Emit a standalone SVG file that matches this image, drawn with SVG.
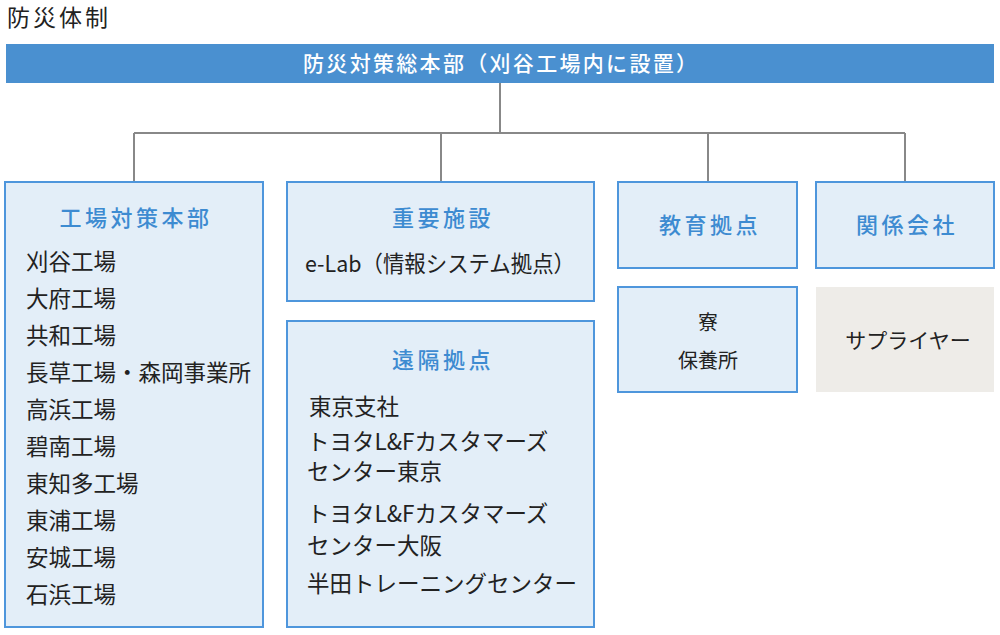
<svg xmlns="http://www.w3.org/2000/svg" width="1000" height="635" viewBox="0 0 1000 635">
<style>
text{font-family:"Noto Sans CJK JP","Noto Sans",sans-serif;}
.box{fill:#e3eef8;stroke:#4e96dc;stroke-width:2;}
.grey{fill:#eeece8;}
.hd{font-size:22px;fill:#3d8bd1;font-weight:500;letter-spacing:3.5px;text-anchor:middle;}
.it{font-size:22.5px;fill:#222;}
.sm{font-size:20px;fill:#222;text-anchor:middle;}
.conn{fill:none;stroke:#888;stroke-width:2;}
</style>
<text x="7" y="26" style="font-size:23px;fill:#222;letter-spacing:3px">防災体制</text>
<g id="hq">
<rect x="6" y="44" width="988" height="39" fill="#4a90d0"/>
<text x="303" y="71" textLength="394" lengthAdjust="spacing" style="font-size:21px;fill:#fff;font-weight:500">防災対策総本部（刈谷工場内に設置）</text>
</g>
<g id="connectors">
<path class="conn" d="M500 83V133M134 133H905M134 133V182M441 133V182M708 133V182M905 133V182"/>
</g>
<g id="factory">
<rect class="box" x="5" y="182" width="258" height="445"/>
<text class="hd" x="136" y="226">工場対策本部</text>
<text class="it" x="26" y="270">刈谷工場</text>
<text class="it" x="26" y="307">大府工場</text>
<text class="it" x="26" y="344">共和工場</text>
<text class="it" x="26" y="381">長草工場・森岡事業所</text>
<text class="it" x="26" y="418">高浜工場</text>
<text class="it" x="26" y="455">碧南工場</text>
<text class="it" x="26" y="492">東知多工場</text>
<text class="it" x="26" y="529">東浦工場</text>
<text class="it" x="26" y="566">安城工場</text>
<text class="it" x="26" y="603">石浜工場</text>
</g>
<g id="important">
<rect class="box" x="287" y="182" width="307" height="119"/>
<text class="hd" x="443" y="226">重要施設</text>
<text class="it" x="305" y="272" textLength="270" lengthAdjust="spacingAndGlyphs">e-Lab（情報システム拠点）</text>
</g>
<g id="remote">
<rect class="box" x="287" y="321" width="307" height="306"/>
<text class="hd" x="443" y="368">遠隔拠点</text>
<text class="it" x="309" y="415">東京支社</text>
<text class="it" x="307" y="450">トヨタL&amp;Fカスタマーズ</text>
<text class="it" x="307" y="480">センター東京</text>
<text class="it" x="307" y="522">トヨタL&amp;Fカスタマーズ</text>
<text class="it" x="307" y="554">センター大阪</text>
<text class="it" x="307" y="592">半田トレーニングセンター</text>
</g>
<g id="education">
<rect class="box" x="618" y="182" width="179" height="86"/>
<text class="hd" x="710" y="233">教育拠点</text>
</g>
<g id="affiliates">
<rect class="box" x="816" y="182" width="178" height="86"/>
<text class="hd" x="907" y="233">関係会社</text>
</g>
<g id="dorm">
<rect class="box" x="618" y="287" width="179" height="105"/>
<text class="sm" x="708" y="330">寮</text>
<text class="sm" x="708" y="368">保養所</text>
</g>
<g id="supplier">
<rect class="grey" x="816" y="287" width="178" height="105"/>
<text class="sm" x="908" y="348" style="font-size:21px">サプライヤー</text>
</g>
</svg>
